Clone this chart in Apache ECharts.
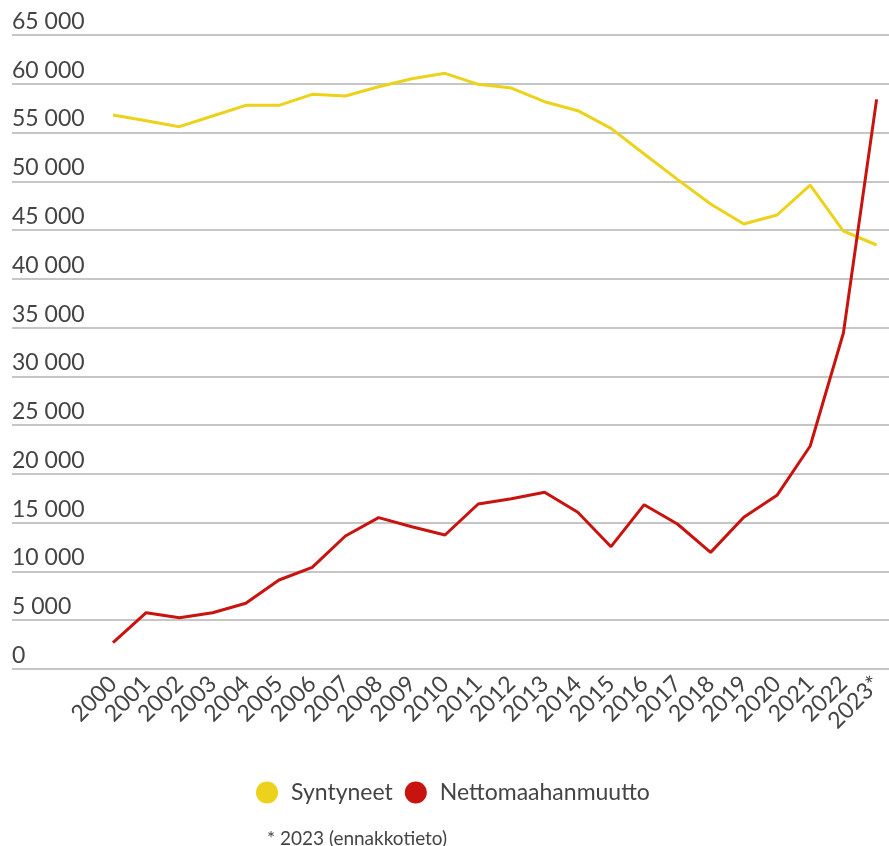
<!DOCTYPE html>
<html>
<head>
<meta charset="utf-8">
<script src="https://cdn.jsdelivr.net/npm/echarts@6/dist/echarts.min.js"></script>
<style>
html,body{margin:0;padding:0;background:#fff;}
#chart{width:889px;height:846px;}
</style>
</head>
<body>
<div id="chart"></div>
<script>
const years = ['2000','2001','2002','2003','2004','2005','2006','2007','2008','2009','2010','2011','2012','2013','2014','2015','2016','2017','2018','2019','2020','2021','2022','2023*'];
const syntyneet = [56800,56200,55600,56700,57790,57790,58920,58745,59700,60520,61070,59940,59565,58160,57240,55430,52800,50200,47670,45620,46545,49620,44905,43470];
const nettomaahanmuutto = [2700,5775,5260,5770,6735,9124,10424,13635,15515,14590,13738,16916,17460,18115,16063,12540,16847,14866,11960,15550,17805,22862,34450,58400];
const seriesNames = ['Syntyneet','Nettomaahanmuutto'];
const yMin = 0, yMax = 65000, yStep = 5000;
const footnote = '* 2023 (ennakkotieto)';

const FONT = 'Lato';
const chart = echarts.init(document.getElementById('chart'), null, {renderer:'canvas'});
chart.setOption({
  animation:false,
  backgroundColor:'#ffffff',
  textStyle:{fontFamily:FONT},
  color:['#ecd21b','#c8130f'],
  title:{text:footnote,left:262,top:824,textStyle:{fontFamily:FONT,fontSize:19,fontWeight:'normal',color:'#444'}},
  legend:{
    data:seriesNames,left:251,top:776,icon:'circle',itemWidth:22,itemHeight:22,itemGap:12,
    textStyle:{fontFamily:FONT,fontSize:23,color:'#444',padding:[0,0,0,8]}
  },
  grid:[
    {left:12,right:0,top:35,bottom:177},
    {left:113,right:12.4,top:35,bottom:177}
  ],
  xAxis:[
    {gridIndex:0,type:'value',show:false,min:0,max:1},
    {gridIndex:1,type:'category',data:years,boundaryGap:false,
     axisLine:{show:false},axisTick:{show:false},
     axisLabel:{rotate:45,interval:0,margin:11,fontSize:23,color:'#444',fontFamily:FONT}}
  ],
  yAxis:[
    {gridIndex:0,type:'value',min:yMin,max:yMax,interval:yStep,
     axisLine:{show:false},axisTick:{show:false},
     splitLine:{lineStyle:{color:'#b3b3b3',width:1.5}},
     axisLabel:{inside:true,margin:0,verticalAlign:'bottom',padding:[0,0,2,0],fontSize:23,color:'#444',fontFamily:FONT,
       formatter:v=>String(v).replace(/\B(?=(\d{3})+(?!\d))/g,' ')}},
    {gridIndex:1,type:'value',min:yMin,max:yMax,interval:yStep,show:false,splitLine:{show:false}}
  ],
  series:[
    {name:seriesNames[0],type:'line',xAxisIndex:1,yAxisIndex:1,data:syntyneet,symbol:'none',lineStyle:{width:3,color:'#ecd21b'},itemStyle:{color:'#ecd21b'}},
    {name:seriesNames[1],type:'line',xAxisIndex:1,yAxisIndex:1,data:nettomaahanmuutto,symbol:'none',lineStyle:{width:3,color:'#c8130f'},itemStyle:{color:'#c8130f'}}
  ]
});
</script>
</body>
</html>
